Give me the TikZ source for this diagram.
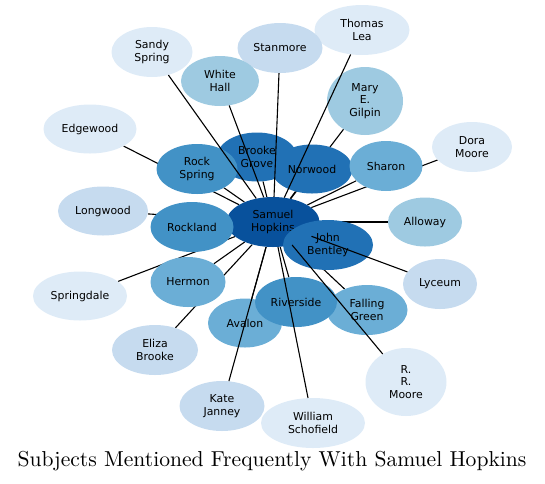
\documentclass[tikz,border=0pt]{standalone}
\usepackage{fontspec}
\newfontfamily\subjfont{DejaVu Sans}
\newfontfamily\titlefont{lmroman10-regular.otf}
\usetikzlibrary{shapes.geometric}
\pgfdeclarelayer{background}
\pgfdeclarelayer{foreground}
\pgfsetlayers{background,main,foreground}
\definecolor{blueA}{HTML}{08519C}
\definecolor{blueB}{HTML}{2171B5}
\definecolor{blueC}{HTML}{4292C6}
\definecolor{blueD}{HTML}{6BAED6}
\definecolor{blueE}{HTML}{9ECAE1}
\definecolor{blueF}{HTML}{C6DBEF}
\definecolor{blueG}{HTML}{DEEBF7}
\tikzset{
  subj/.style={ellipse, inner sep=0pt, align=center, text=black,
    minimum width=80pt, minimum height=50pt,
    font=\subjfont\fontsize{10.9}{12.3}\selectfont},
  link/.style={draw=black, line width=1.1pt},
}
\begin{document}
\begin{tikzpicture}[x=1pt, y=-1pt]
  \useasboundingbox (0,0) rectangle (545,483);
  % Centre subject
  \node[subj, fill=blueA, minimum width=93pt] (hopkins) at (273,222) {Samuel\\Hopkins};
  % Lower right subjects
  \node[subj, fill=blueE, minimum width=74pt, minimum height=49pt] (alloway) at (425,222) {Alloway};
  \node[subj, fill=blueD, minimum width=81pt] (falling) at (367,310) {Falling\\Green};
  \node[subj, fill=blueD, minimum width=74pt, minimum height=49pt] (avalon) at (245,323) {Avalon};
  \node[subj, fill=blueC, minimum width=82pt] (riverside) at (296,302) {Riverside};
  \node[subj, fill=blueB, minimum width=90pt] (bentley) at (328,245) {John\\Bentley};
  \node[subj, fill=blueF, minimum width=74pt] (lyceum) at (440,284) {Lyceum};
  \node[subj, fill=blueG, minimum width=81pt, minimum height=68pt] (rrmoore) at (406,382) {R.\\R.\\Moore};
  \node[subj, fill=blueG, minimum width=104pt] (schofield) at (313,423) {William\\Schofield};
  \node[subj, fill=blueF, minimum width=85pt] (janney) at (222,406) {Kate\\Janney};
  % Lower left subjects
  \node[subj, fill=blueF, minimum width=86pt] (eliza) at (155,350) {Eliza\\Brooke};
  \node[subj, fill=blueD, minimum width=75pt] (hermon) at (188,282) {Hermon};
  \node[subj, fill=blueG, minimum width=94pt, minimum height=49pt] (springdale) at (80,296) {Springdale};
  \node[subj, fill=blueF, minimum width=90pt, minimum height=49pt] (longwood) at (103,211) {Longwood};
  \node[subj, fill=blueC, minimum width=83pt] (rockland) at (192,227) {Rockland};
  \node[subj, fill=blueG, minimum width=93pt, minimum height=49pt] (edgewood) at (90,129) {Edgewood};
  % Upper subjects
  \node[subj, fill=blueB, minimum height=49pt] (brooke) at (257,157) {Brooke\\Grove};
  \node[subj, fill=blueC, minimum width=81pt] (rockspring) at (197,169) {Rock\\Spring};
  \node[subj, fill=blueG, minimum width=81pt] (sandy) at (152,52) {Sandy\\Spring};
  \node[subj, fill=blueE, minimum width=76pt, minimum height=68pt] (gilpin) at (365,101) {Mary\\E.\\Gilpin};
  \node[subj, fill=blueB, minimum width=81pt, minimum height=49pt] (norwood) at (312,169) {Norwood};
  \node[subj, fill=blueG] (dora) at (472,147) {Dora\\Moore};
  \node[subj, fill=blueD, minimum width=73pt] (sharon) at (386,166) {Sharon};
  \node[subj, fill=blueG, minimum width=95pt] (lea) at (362,30) {Thomas\\Lea};
  \node[subj, fill=blueF, minimum width=85pt] (stanmore) at (280,48) {Stanmore};
  \node[subj, fill=blueE, minimum width=78pt] (whitehall) at (220,81) {White\\Hall};
  % Links hidden by other subjects
  \begin{pgfonlayer}{background}
    \foreach \s in {alloway,falling,avalon,riverside,bentley,eliza,hermon,
      springdale,longwood,rockland,edgewood,brooke,rockspring,gilpin,
      norwood,dora,sharon}
      \draw[link] (hopkins) -- (\s);
  \end{pgfonlayer}
  % Links crossing over other subjects
  \begin{pgfonlayer}{foreground}
    \foreach \s in {lyceum,rrmoore,schofield,janney,sandy,lea,stanmore,whitehall}
      \draw[link] (hopkins) -- (\s);
  \end{pgfonlayer}
  % Title
  \node[font=\titlefont\fontsize{21.6}{26}\selectfont] (title) at (272,461)
    {Subjects Mentioned Frequently With Samuel Hopkins};
\end{tikzpicture}
\end{document}
